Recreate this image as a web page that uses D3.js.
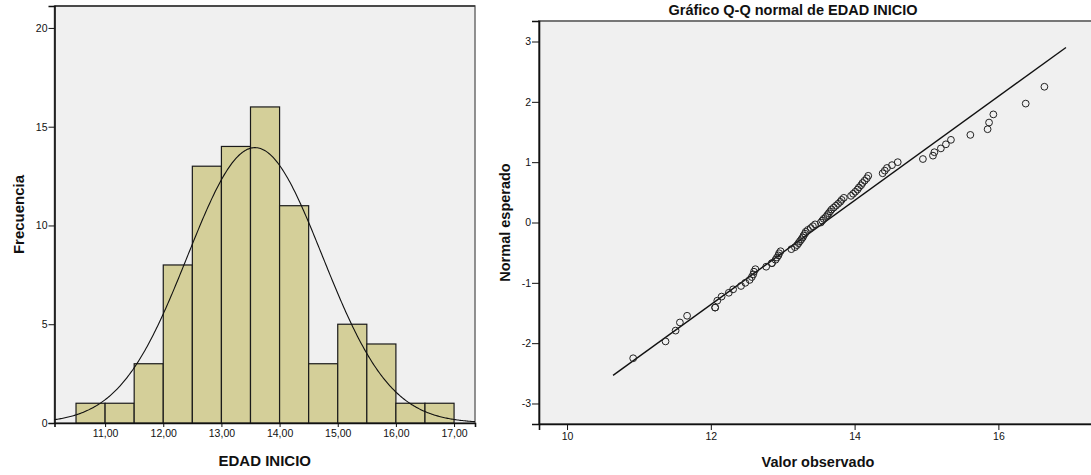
<!DOCTYPE html>
<html>
<head>
<meta charset="utf-8">
<script src="https://cdn.jsdelivr.net/npm/d3@7"></script>
<style>
  html, body { margin: 0; padding: 0; background: #ffffff; }
  svg { display: block; font-family: "Liberation Sans", Arial, sans-serif; }
</style>
</head>
<body>
<svg id="chart" width="1091" height="475"></svg>
<script>
// ---- Histogram: EDAD INICIO (bins of 0,5) ----
const binStarts = [10.5, 11.0, 11.5, 12.0, 12.5, 13.0, 13.5, 14.0, 14.5, 15.0, 15.5, 16.0, 16.5];
const binCounts = [1, 1, 3, 8, 13, 14, 16, 11, 3, 5, 4, 1, 1];
const binWidth = 0.5;
const histXTicks = [11, 12, 13, 14, 15, 16, 17];
const histXTickLabels = ["11,00", "12,00", "13,00", "14,00", "15,00", "16,00", "17,00"];
const histYTicks = [0, 5, 10, 15, 20];

// Fitted normal: mean, standard deviation, N
const normalMean = 13.577;
const normalSd = 1.159;
const sampleN = 81;

// ---- Normal Q-Q plot: observed value vs expected normal score ----
const qqObserved = [
  10.92, 11.37, 11.51, 11.57, 11.67, 12.06, 12.06, 12.09, 12.15, 12.25,
  12.31, 12.42, 12.48, 12.54, 12.57, 12.59, 12.60, 12.62, 12.77, 12.85,
  12.85, 12.90, 12.92, 12.94, 12.95, 12.97, 13.12, 13.17, 13.20, 13.22,
  13.24, 13.26, 13.28, 13.29, 13.31, 13.32, 13.35, 13.39, 13.42, 13.45,
  13.53, 13.55, 13.57, 13.60, 13.62, 13.64, 13.66, 13.68, 13.71, 13.74,
  13.77, 13.80, 13.82, 13.85, 13.95, 13.98, 14.01, 14.04, 14.06, 14.09,
  14.11, 14.14, 14.17, 14.19, 14.39, 14.42, 14.45, 14.52, 14.60, 14.95,
  15.09, 15.11, 15.20, 15.27, 15.34, 15.61, 15.85, 15.87, 15.93, 16.38,
  16.64
];
const qqExpected = [
  -2.250, -1.971, -1.792, -1.657, -1.546, -1.410, -1.410, -1.296, -1.228, -1.165,
  -1.108, -1.052, -1.000, -0.952, -0.904, -0.860, -0.816, -0.774, -0.733, -0.674,
  -0.674, -0.618, -0.581, -0.546, -0.510, -0.476, -0.442, -0.409, -0.375, -0.342,
  -0.310, -0.278, -0.247, -0.216, -0.185, -0.154, -0.123, -0.092, -0.061, -0.031,
  0.000, 0.031, 0.061, 0.092, 0.123, 0.154, 0.185, 0.216, 0.247, 0.278,
  0.310, 0.342, 0.375, 0.409, 0.442, 0.476, 0.510, 0.546, 0.581, 0.618,
  0.655, 0.694, 0.733, 0.774, 0.816, 0.860, 0.904, 0.951, 1.000, 1.052,
  1.108, 1.165, 1.228, 1.296, 1.370, 1.452, 1.546, 1.657, 1.792, 1.971,
  2.250
];
const qqLineRange = [10.64, 16.94];
const qqXTicks = [10, 12, 14, 16];
const qqYTicks = [-3, -2, -1, 0, 1, 2, 3];

const svg = d3.select("#chart");
const plotBg = "#f0f0f0";
const barFill = "#d4cf99";

// ================= Histogram =================
const h = { left: 54.5, right: 475, top: 6, bottom: 423 };
const hx = d3.scaleLinear().domain([10.13, 17.36]).range([h.left, h.right]);
const hy = d3.scaleLinear().domain([0, 21.11]).range([h.bottom, h.top]);

const gH = svg.append("g");
gH.append("rect")
  .attr("x", h.left).attr("y", h.top)
  .attr("width", h.right - h.left).attr("height", h.bottom - h.top)
  .attr("fill", plotBg).attr("stroke", "#6e6e6e").attr("stroke-width", 1.5);
// darker top edge
gH.append("line").attr("x1", h.left).attr("x2", h.right).attr("y1", h.top).attr("y2", h.top)
  .attr("stroke", "#333").attr("stroke-width", 1.5);

gH.selectAll("rect.bar")
  .data(binStarts.map((s, i) => ({ start: s, count: binCounts[i] })))
  .join("rect")
  .attr("class", "bar")
  .attr("x", d => hx(d.start))
  .attr("y", d => hy(d.count))
  .attr("width", d => hx(d.start + binWidth) - hx(d.start))
  .attr("height", d => hy(0) - hy(d.count))
  .attr("fill", barFill)
  .attr("stroke", "#1a1a1a")
  .attr("stroke-width", 1.2);

// fitted normal curve scaled to frequencies
const curveXs = d3.range(0, 401).map(i => 10.13 + (17.36 - 10.13) * i / 400);
const curve = d3.line()
  .x(d => hx(d))
  .y(d => hy(sampleN * binWidth / (normalSd * Math.sqrt(2 * Math.PI)) *
              Math.exp(-0.5 * Math.pow((d - normalMean) / normalSd, 2))));
gH.append("path").datum(curveXs)
  .attr("d", curve).attr("fill", "none")
  .attr("stroke", "#111").attr("stroke-width", 1.1);

const hxAxis = d3.axisBottom(hx).tickValues(histXTicks)
  .tickFormat((d, i) => histXTickLabels[i]).tickSize(4).tickPadding(3);
const hxG = gH.append("g").attr("transform", `translate(0,${h.bottom})`).call(hxAxis);
hxG.select(".domain").attr("stroke", "#111").attr("stroke-width", 1.6);

const hyAxis = d3.axisLeft(hy).tickValues(histYTicks)
  .tickFormat(d => String(d)).tickSize(6).tickPadding(1);
const hyG = gH.append("g").attr("transform", `translate(${h.left},0)`).call(hyAxis);
hyG.select(".domain").attr("stroke", "#111").attr("stroke-width", 1.6);

[hxG, hyG].forEach(g => {
  g.selectAll("text").attr("font-size", "10.5px").attr("fill", "#111")
    .attr("font-family", "'Liberation Sans', Arial, sans-serif");
  g.selectAll(".tick line").attr("stroke", "#111");
});

gH.append("text")
  .attr("x", (h.left + h.right) / 2).attr("y", 466)
  .attr("text-anchor", "middle").attr("font-weight", "bold").attr("font-size", "15px")
  .attr("fill", "#111").text("EDAD INICIO");
gH.append("text")
  .attr("transform", `translate(24,${(h.top + h.bottom) / 2}) rotate(-90)`)
  .attr("text-anchor", "middle").attr("font-weight", "bold").attr("font-size", "15px")
  .attr("fill", "#111").text("Frecuencia");

// ================= Q-Q plot =================
const q = { left: 539, right: 1093, top: 21, bottom: 424 };
const qx = d3.scaleLinear().domain([9.61, 17.316]).range([q.left, q.right]);
const qy = d3.scaleLinear().domain([-3.34, 3.34]).range([q.bottom, q.top]);

const gQ = svg.append("g");
gQ.append("rect")
  .attr("x", q.left).attr("y", q.top)
  .attr("width", q.right - q.left).attr("height", q.bottom - q.top)
  .attr("fill", plotBg).attr("stroke", "#777").attr("stroke-width", 2);

// reference line: expected = (observed - mean) / sd
gQ.append("line")
  .attr("x1", qx(qqLineRange[0])).attr("y1", qy((qqLineRange[0] - normalMean) / normalSd))
  .attr("x2", qx(qqLineRange[1])).attr("y2", qy((qqLineRange[1] - normalMean) / normalSd))
  .attr("stroke", "#111").attr("stroke-width", 1.4);

gQ.selectAll("circle.pt")
  .data(qqObserved.map((v, i) => ({ x: v, z: qqExpected[i] })))
  .join("circle")
  .attr("class", "pt")
  .attr("cx", d => qx(d.x)).attr("cy", d => qy(d.z)).attr("r", 3.4)
  .attr("fill", "none").attr("stroke", "#222").attr("stroke-width", 1);

const qxAxis = d3.axisBottom(qx).tickValues(qqXTicks)
  .tickFormat(d => String(d)).tickSize(6).tickPadding(3);
const qxG = gQ.append("g").attr("transform", `translate(0,${q.bottom})`).call(qxAxis);
qxG.select(".domain").attr("stroke", "#111").attr("stroke-width", 1.6);

const qyAxis = d3.axisLeft(qy).tickValues(qqYTicks)
  .tickFormat(d => String(d)).tickSize(7).tickPadding(1);
const qyG = gQ.append("g").attr("transform", `translate(${q.left},0)`).call(qyAxis);
qyG.select(".domain").attr("stroke", "#111").attr("stroke-width", 1.6);

[qxG, qyG].forEach(g => {
  g.selectAll("text").attr("font-size", "10.5px").attr("fill", "#111")
    .attr("font-family", "'Liberation Sans', Arial, sans-serif");
  g.selectAll(".tick line").attr("stroke", "#111");
});

gQ.append("text")
  .attr("x", 793).attr("y", 15)
  .attr("text-anchor", "middle").attr("font-weight", "bold").attr("font-size", "14.5px")
  .attr("fill", "#111").text("Gráfico Q-Q normal de EDAD INICIO");
gQ.append("text")
  .attr("x", 818).attr("y", 467)
  .attr("text-anchor", "middle").attr("font-weight", "bold").attr("font-size", "14.5px")
  .attr("fill", "#111").text("Valor observado");
gQ.append("text")
  .attr("transform", `translate(510,${(q.top + q.bottom) / 2}) rotate(-90)`)
  .attr("text-anchor", "middle").attr("font-weight", "bold").attr("font-size", "14.5px")
  .attr("fill", "#111").text("Normal esperado");
</script>
</body>
</html>
